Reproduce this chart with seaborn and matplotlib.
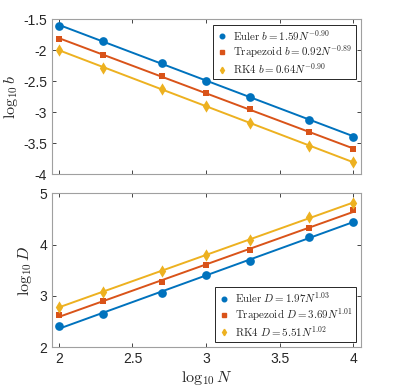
import matplotlib
matplotlib.use('Agg')
import matplotlib.pyplot as plt
from matplotlib.lines import Line2D
import numpy as np
import pandas as pd
import seaborn as sns

# log10 N sample points
log_n = [2.0, 2.3, 2.7, 3.0, 3.3, 3.7, 4.0]

# log10 b (top panel)
b_euler = [-1.61, -1.86, -2.20, -2.49, -2.75, -3.12, -3.40]
b_trap = [-1.82, -2.08, -2.41, -2.69, -2.95, -3.32, -3.60]
b_rk4 = [-2.00, -2.28, -2.63, -2.90, -3.17, -3.54, -3.81]

# log10 D (bottom panel)
d_euler = [2.41, 2.65, 3.05, 3.40, 3.69, 4.15, 4.45]
d_trap = [2.62, 2.90, 3.28, 3.61, 3.90, 4.32, 4.67]
d_rk4 = [2.79, 3.08, 3.49, 3.79, 4.09, 4.53, 4.82]

methods = ['Euler', 'Trapezoid', 'RK4']
colors = ['#0072BD', '#D95319', '#EDB120']
markers = ['o', 's', 'd']
msizes = [5.5, 4.0, 5.5]

b_labels = [r'$\mathrm{Euler}\ b = 1.59N^{-0.90}$',
            r'$\mathrm{Trapezoid}\ b = 0.92N^{-0.89}$',
            r'$\mathrm{RK4}\ b = 0.64N^{-0.90}$']
d_labels = [r'$\mathrm{Euler}\ D = 1.97N^{1.03}$',
            r'$\mathrm{Trapezoid}\ D = 3.69N^{1.01}$',
            r'$\mathrm{RK4}\ D = 5.51N^{1.02}$']

sns.set_style('ticks')
plt.rcParams['font.family'] = ['Liberation Sans', 'DejaVu Sans']
plt.rcParams['mathtext.fontset'] = 'cm'
plt.rcParams['xtick.direction'] = 'in'
plt.rcParams['ytick.direction'] = 'in'

grey = '#262626'
axc = '#A0A0A0'

fig = plt.figure(figsize=(3.99, 3.87), dpi=100)
ax1 = fig.add_axes([0.130, 0.550, 0.775, 0.4005])
ax2 = fig.add_axes([0.130, 0.1026, 0.775, 0.398])


def draw(ax, series, labels, loc):
    for ys, c, m, ms in zip(series, colors, markers, msizes):
        df = pd.DataFrame({'x': log_n, 'y': ys})
        sns.regplot(data=df, x='x', y='y', ax=ax, ci=None, color=c,
                    marker=m, scatter_kws={'s': ms ** 2 * 1.3, 'linewidths': 0, 'alpha': 1},
                    line_kws={'lw': 1.4})
    handles = [Line2D([], [], ls='none', marker=m, color=c, markersize=ms * 0.6)
               for c, m, ms in zip(colors, markers, msizes)]
    leg = ax.legend(handles, labels, loc=loc, fontsize=7.9, frameon=True, fancybox=False,
                    edgecolor=grey, framealpha=1, handlelength=1.0, handletextpad=0.5,
                    borderpad=0.3, labelspacing=0.1, borderaxespad=0.5)
    leg.get_frame().set_linewidth(0.7)
    ax.set_xlim(1.952, 4.054)
    ax.set_xticks([2, 2.5, 3, 3.5, 4])
    ax.tick_params(top=True, right=True, labelsize=10, colors=grey, length=3, width=0.6)
    for sp in ax.spines.values():
        sp.set_visible(True)
        sp.set_color(axc)
        sp.set_linewidth(0.8)


draw(ax1, [b_euler, b_trap, b_rk4], b_labels, 'upper right')
ax1.set_ylim(-4, -1.5)
ax1.set_yticks([-4, -3.5, -3, -2.5, -2, -1.5])
ax1.set_yticklabels(['-4', '-3.5', '-3', '-2.5', '-2', '-1.5'])
ax1.set_xticklabels([])
ax1.set_xlabel('')
ax1.set_ylabel(r'$\log_{10} b$', fontsize=11.5, color=grey, labelpad=2)

draw(ax2, [d_euler, d_trap, d_rk4], d_labels, 'lower right')
ax2.set_ylim(2, 5)
ax2.set_yticks([2, 3, 4, 5])
ax2.set_xticklabels(['2', '2.5', '3', '3.5', '4'])
ax2.set_xlabel(r'$\log_{10} N$', fontsize=11.5, color=grey, labelpad=2)
ax2.set_ylabel(r'$\log_{10} D$', fontsize=11.5, color=grey, labelpad=4)

fig.savefig('out.png', dpi=100)
